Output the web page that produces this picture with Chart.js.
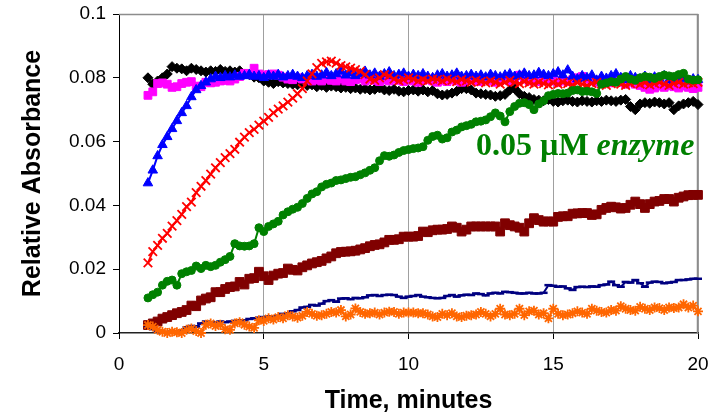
<!DOCTYPE html>
<html><head><meta charset="utf-8">
<script src="https://cdn.jsdelivr.net/npm/chart.js@4.4.1/dist/chart.umd.min.js"></script>
<style>html,body{margin:0;padding:0;background:#fff;}#wrap{width:719px;height:414px;}</style>
</head><body><div id="wrap"><canvas id="c" width="719" height="414"></canvas></div>
<script>
// sampling times, seconds
const timeSeconds = [60,70,80,90,100,110,120,130,140,150,160,170,180,190,200,210,220,230,240,250,260,270,280,290,300,310,320,330,340,350,360,370,380,390,400,410,420,430,440,450,460,470,480,490,500,510,520,530,540,550,560,570,580,590,600,610,620,630,640,650,660,670,680,690,700,710,720,730,740,750,760,770,780,790,800,810,820,830,840,850,860,870,880,890,900,910,920,930,940,950,960,970,980,990,1000,1010,1020,1030,1040,1050,1060,1070,1080,1090,1100,1110,1120,1130,1140,1150,1160,1170,1180,1190,1200];

const blackDiamonds = [.0800,.0780,.0790,.0800,.0812,.0835,.0830,.0828,.0822,.0830,
.0826,.0822,.0818,.0822,.0820,.0826,.0820,.0822,.0818,.0822,
.0812,.0810,.0802,.0800,.0790,.0786,.0782,.0788,.0784,.0782,
.0780,.0778,.0780,.0776,.0778,.0772,.0776,.0770,.0774,.0772,
.0768,.0770,.0766,.0768,.0764,.0766,.0762,.0764,.0768,.0762,
.0760,.0764,.0758,.0756,.0760,.0762,.0758,.0762,.0756,.0760,
.0750,.0746,.0748,.0752,.0758,.0766,.0766,.0762,.0752,.0750,
.0748,.0746,.0742,.0744,.0748,.0762,.0766,.0750,.0742,.0738,
.0732,.0730,.0728,.0732,.0726,.0724,.0728,.0730,.0726,.0724,
.0728,.0726,.0724,.0728,.0726,.0730,.0728,.0726,.0730,.0732,
.0710,.0700,.0718,.0722,.0720,.0724,.0722,.0718,.0722,.0700,
.0712,.0718,.0722,.0726,.0716];

const magentaSquares = [.0745,.0756,.0782,.0784,.0780,.0770,.0772,.0782,.0786,.0788,
.0774,.0772,.0786,.0784,.0786,.0790,.0792,.0790,.0796,.0804,
.0814,.0810,.0830,.0812,.0808,.0810,.0812,.0808,.0802,.0796,
.0794,.0800,.0796,.0796,.0790,.0794,.0790,.0796,.0792,.0790,
.0796,.0790,.0788,.0794,.0798,.0790,.0796,.0792,.0788,.0794,
.0790,.0796,.0792,.0788,.0794,.0790,.0786,.0792,.0796,.0790,
.0786,.0792,.0788,.0794,.0790,.0786,.0792,.0796,.0790,.0788,
.0794,.0790,.0786,.0792,.0796,.0790,.0800,.0808,.0796,.0790,
.0794,.0788,.0792,.0796,.0790,.0786,.0792,.0788,.0794,.0800,
.0804,.0796,.0790,.0786,.0792,.0788,.0784,.0790,.0786,.0780,
.0786,.0780,.0776,.0770,.0764,.0768,.0774,.0770,.0776,.0772,
.0768,.0774,.0770,.0766,.0770];

const blueTriangles = [.0470,.0510,.0555,.0590,.0615,.0640,.0665,.0690,.0712,.0740,
.0762,.0775,.0786,.0796,.0804,.0800,.0806,.0802,.0808,.0804,
.0806,.0810,.0804,.0806,.0800,.0808,.0804,.0810,.0802,.0806,
.0810,.0804,.0800,.0806,.0810,.0804,.0808,.0816,.0806,.0812,
.0820,.0808,.0814,.0806,.0812,.0820,.0808,.0814,.0804,.0812,
.0818,.0806,.0810,.0814,.0804,.0810,.0806,.0812,.0804,.0800,
.0808,.0812,.0804,.0808,.0814,.0804,.0806,.0810,.0804,.0808,
.0802,.0810,.0806,.0802,.0808,.0812,.0804,.0808,.0814,.0806,
.0808,.0816,.0810,.0806,.0812,.0818,.0808,.0824,.0804,.0796,
.0806,.0800,.0808,.0792,.0804,.0798,.0806,.0812,.0800,.0794,
.0806,.0800,.0796,.0804,.0790,.0802,.0798,.0806,.0794,.0790,
.0800,.0796,.0790,.0796,.0794];

const redCrosses = [.0220,.0255,.0275,.0297,.0312,.0335,.0352,.0372,.0396,.0410,
.0440,.0460,.0478,.0498,.0518,.0534,.0550,.0562,.0576,.0598,
.0614,.0628,.0638,.0652,.0664,.0676,.0690,.0702,.0712,.0724,
.0736,.0750,.0766,.0790,.0812,.0832,.0845,.0850,.0852,.0846,
.0838,.0834,.0830,.0826,.0820,.0810,.0796,.0792,.0800,.0810,
.0806,.0796,.0790,.0794,.0800,.0796,.0790,.0794,.0790,.0796,
.0794,.0790,.0796,.0792,.0788,.0794,.0790,.0786,.0792,.0788,
.0784,.0790,.0786,.0780,.0786,.0792,.0786,.0782,.0788,.0784,
.0780,.0786,.0782,.0778,.0784,.0780,.0786,.0782,.0778,.0784,
.0780,.0776,.0782,.0786,.0780,.0776,.0782,.0786,.0780,.0776,
.0782,.0786,.0780,.0784,.0778,.0782,.0786,.0780,.0776,.0782,
.0786,.0780,.0784,.0782,.0786];

const greenCircles = [.0110,.0120,.0128,.0150,.0162,.0166,.0150,.0186,.0192,.0196,
.0210,.0202,.0212,.0208,.0212,.0222,.0230,.0240,.0280,.0273,
.0272,.0273,.0280,.0330,.0318,.0334,.0342,.0350,.0370,.0380,
.0388,.0394,.0406,.0422,.0436,.0443,.0458,.0466,.0470,.0478,
.0480,.0484,.0488,.0490,.0496,.0502,.0510,.0518,.0540,.0556,
.0554,.0558,.0566,.0572,.0575,.0578,.0580,.0584,.0604,.0616,
.0620,.0608,.0612,.0630,.0636,.0646,.0650,.0654,.0662,.0664,
.0668,.0678,.0690,.0680,.0662,.0694,.0710,.0720,.0722,.0716,
.0700,.0718,.0728,.0744,.0748,.0751,.0750,.0752,.0760,.0762,
.0757,.0758,.0756,.0751,.0780,.0784,.0788,.0786,.0796,.0804,
.0796,.0792,.0800,.0804,.0802,.0798,.0804,.0809,.0806,.0804,
.0810,.0814,.0796,.0793,.0794];

const maroonSquares = [.0025,.0030,.0036,.0045,.0050,.0056,.0062,.0066,.0072,.0086,
.0084,.0102,.0108,.0112,.0128,.0128,.0138,.0144,.0146,.0160,
.0152,.0170,.0172,.0192,.0178,.0166,.0180,.0186,.0188,.0202,
.0198,.0196,.0206,.0212,.0218,.0222,.0226,.0234,.0240,.0250,
.0254,.0255,.0256,.0258,.0262,.0266,.0272,.0276,.0278,.0284,
.0292,.0292,.0294,.0302,.0302,.0302,.0304,.0318,.0316,.0322,
.0324,.0324,.0326,.0334,.0330,.0318,.0324,.0334,.0334,.0334,
.0334,.0334,.0334,.0318,.0344,.0338,.0334,.0330,.0318,.0344,
.0360,.0354,.0349,.0350,.0349,.0364,.0366,.0366,.0374,.0375,
.0376,.0376,.0370,.0372,.0386,.0392,.0396,.0394,.0390,.0392,
.0402,.0412,.0404,.0392,.0404,.0412,.0414,.0420,.0420,.0412,
.0424,.0428,.0432,.0433,.0433];

const navyDashes = [.0020,.0012,.0004,.0002,.0003,.0004,.0004,.0008,.0018,.0022,
.0020,.0030,.0036,.0032,.0034,.0036,.0034,.0036,.0038,.0040,
.0040,.0044,.0046,.0048,.0050,.0052,.0050,.0054,.0060,.0062,
.0068,.0072,.0080,.0082,.0088,.0086,.0092,.0100,.0103,.0098,
.0108,.0109,.0106,.0110,.0109,.0112,.0118,.0119,.0116,.0119,
.0120,.0119,.0114,.0110,.0114,.0116,.0119,.0114,.0112,.0110,
.0109,.0110,.0116,.0119,.0114,.0118,.0120,.0119,.0124,.0122,
.0118,.0124,.0126,.0124,.0129,.0128,.0126,.0124,.0124,.0126,
.0124,.0124,.0126,.0150,.0148,.0145,.0146,.0140,.0135,.0144,
.0145,.0144,.0146,.0145,.0150,.0152,.0161,.0150,.0145,.0160,
.0158,.0166,.0156,.0145,.0158,.0161,.0160,.0156,.0158,.0160,
.0166,.0166,.0168,.0170,.0170];

const orangeStars = [.0025,.0020,.0010,.0004,.0000,.0004,.0002,.0000,.0010,.0014,
.0006,.0000,.0026,.0030,.0022,.0026,.0012,.0010,.0030,.0034,
.0026,.0020,.0016,.0040,.0038,.0046,.0042,.0050,.0046,.0056,
.0052,.0048,.0054,.0066,.0060,.0054,.0056,.0060,.0066,.0064,
.0072,.0052,.0058,.0077,.0066,.0060,.0062,.0064,.0058,.0064,
.0067,.0066,.0060,.0064,.0064,.0064,.0062,.0062,.0058,.0052,
.0050,.0060,.0056,.0062,.0052,.0050,.0054,.0056,.0058,.0066,
.0060,.0052,.0060,.0076,.0058,.0056,.0060,.0076,.0056,.0068,
.0070,.0058,.0062,.0046,.0076,.0060,.0056,.0058,.0062,.0068,
.0064,.0060,.0076,.0070,.0066,.0064,.0072,.0070,.0084,.0076,
.0072,.0070,.0082,.0076,.0072,.0080,.0078,.0072,.0080,.0078,
.0080,.0090,.0080,.0086,.0068];

const xTickValues = [0, 5, 10, 15, 20];
const xTickLabels = ['0', '5', '10', '15', '20'];
const yTickValues = [0, 0.02, 0.04, 0.06, 0.08, 0.1];
const yTickLabels = ['0', '0.02', '0.04', '0.06', '0.08', '0.1'];
const xTitle = 'Time, minutes';
const yTitle = 'Relative Absorbance';
const annotationRegular = '0.05 µM ';
const annotationItalic = 'enzyme';

function series(values) {
  return timeSeconds.map((s, i) => ({ x: s / 60, y: values[i] }));
}
function ds(values, color, style, radius, order, pbw) {
  return {
    data: series(values),
    borderColor: color,
    backgroundColor: color,
    pointBackgroundColor: color,
    pointBorderColor: color,
    pointStyle: style,
    pointRadius: radius,
    pointBorderWidth: pbw,
    borderWidth: 2,
    tension: 0,
    order: order,
    clip: 6
  };
}

const frame = {
  id: 'frame',
  beforeDatasetsDraw(chart) {
    const { ctx, chartArea: a } = chart;
    ctx.save();
    ctx.strokeStyle = '#8c8c8c';
    ctx.lineWidth = 1.5;
    ctx.beginPath();
    ctx.moveTo(a.left, a.top + 0.5);
    ctx.lineTo(a.right - 0.5, a.top + 0.5);
    ctx.lineTo(a.right - 0.5, a.bottom);
    ctx.stroke();
    ctx.restore();
  }
};

const annotation = {
  id: 'annotation',
  afterDatasetsDraw(chart) {
    const { ctx, scales } = chart;
    const px = scales.x.getPixelForValue(12.33);
    const py = scales.y.getPixelForValue(0.0558);
    ctx.save();
    ctx.fillStyle = '#008000';
    ctx.textBaseline = 'alphabetic';
    ctx.textAlign = 'left';
    ctx.font = 'bold 32px "Liberation Serif"';
    ctx.fillText(annotationRegular, px, py);
    const w = ctx.measureText(annotationRegular).width;
    ctx.font = 'italic bold 32px "Liberation Serif"';
    ctx.fillText(annotationItalic, px + w, py);
    ctx.restore();
  }
};

new Chart(document.getElementById('c'), {
  type: 'line',
  data: {
    datasets: [
      ds(blackDiamonds, '#000000', 'rectRot', 5, 8, 1),
      ds(magentaSquares, '#ff00ff', 'rect', 5.5, 7, 1),
      ds(blueTriangles, '#0000ff', 'triangle', 5.5, 6, 1),
      ds(redCrosses, '#ff0000', 'crossRot', 6, 5, 1.8),
      ds(greenCircles, '#008000', 'circle', 4, 4, 1),
      ds(maroonSquares, '#800000', 'rect', 6.2, 3, 1),
      ds(navyDashes, '#000080', 'line', 4, 2, 2.5),
      ds(orangeStars, '#ff6600', 'star', 5, 1, 1.8)
    ]
  },
  options: {
    responsive: false,
    animation: false,
    events: [],
    layout: { padding: { left: 0, top: 14, right: 21, bottom: 0 } },
    plugins: { legend: { display: false }, tooltip: { enabled: false } },
    scales: {
      x: {
        type: 'linear', min: 0, max: 20,
        afterFit(s) { s.height = 81; s.paddingLeft = 0; s.paddingRight = 0; },
        afterBuildTicks(s) { s.ticks = xTickValues.map(v => ({ value: v })); },
        ticks: {
          font: { family: 'Liberation Sans', size: 19 }, color: '#000', padding: 14,
          maxRotation: 0, autoSkip: false,
          callback: (v, i) => xTickLabels[i]
        },
        grid: {
          drawOnChartArea: true,
          color: c => (c.tick && c.tick.value === 0) ? 'rgba(0,0,0,0)' : '#a0a0a0',
          tickColor: '#000', tickLength: 6, lineWidth: 1
        },
        border: { color: '#222', width: 1.5 },
        title: {
          display: true, text: xTitle, color: '#000',
          font: { family: 'Liberation Sans', size: 25, weight: 'bold', lineHeight: 1 },
          padding: { top: 0, bottom: 0 }
        }
      },
      y: {
        type: 'linear', min: 0, max: 0.1,
        afterFit(s) { s.width = 119; s.paddingTop = 0; s.paddingBottom = 0; },
        afterBuildTicks(s) { s.ticks = yTickValues.map(v => ({ value: v })); },
        ticks: {
          font: { family: 'Liberation Sans', size: 19 }, color: '#000', padding: 7,
          callback: (v, i) => yTickLabels[i]
        },
        grid: { drawOnChartArea: false, tickColor: '#000', tickLength: 6 },
        border: { color: '#000', width: 1 },
        title: {
          display: true, text: yTitle, color: '#000',
          font: { family: 'Liberation Sans', size: 25, weight: 'bold', lineHeight: 1 },
          padding: { top: 20.5, bottom: 0 }
        }
      }
    }
  },
  plugins: [frame, annotation]
});
</script>
</body></html>
